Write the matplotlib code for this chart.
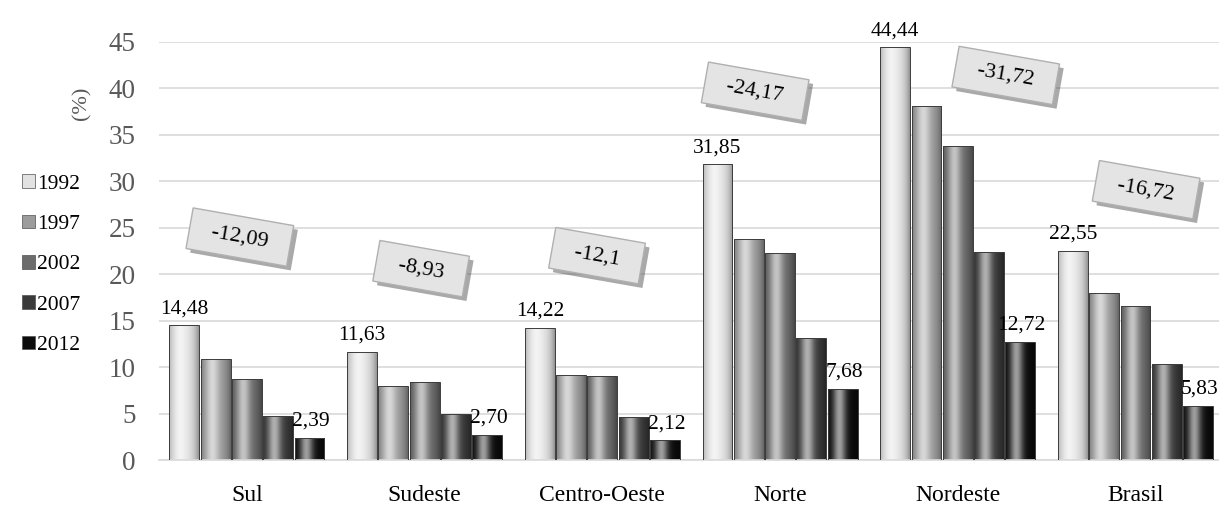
import numpy as np
import matplotlib
matplotlib.use('Agg')
import matplotlib.pyplot as plt
from matplotlib.patches import Patch
import matplotlib.patheffects as pe

# === dados
regioes = ['Sul', 'Sudeste', 'Centro-Oeste', 'Norte', 'Nordeste', 'Brasil']
anos = ['1992', '1997', '2002', '2007', '2012']
v1992 = [14.48, 11.63, 14.22, 31.85, 44.44, 22.55]
v1997 = [10.9, 8.0, 9.2, 23.8, 38.1, 18.0]
v2002 = [8.7, 8.4, 9.0, 22.3, 33.8, 16.6]
v2007 = [4.7, 4.9, 4.6, 13.1, 22.4, 10.3]
v2012 = [2.39, 2.70, 2.12, 7.68, 12.72, 5.83]
rot_1992 = ['14,48', '11,63', '14,22', '31,85', '44,44', '22,55']
rot_2012 = ['2,39', '2,70', '2,12', '7,68', '12,72', '5,83']
variacao = ['-12,09', '-8,93', '-12,1', '-24,17', '-31,72', '-16,72']

series = [v1992, v1997, v2002, v2007, v2012]
cores = ['#e2e2e2', '#9c9c9c', '#6c6c6c', '#3a3a3a', '#0c0c0c']
# posicao das caixas de variacao (x em categorias, y em %)
caixa_pos = [(-0.04, 24.0), (0.98, 20.6), (1.97, 22.0), (2.86, 39.7), (4.27, 41.4), (5.06, 29.1)]

plt.rcParams['font.family'] = ['Liberation Serif', 'DejaVu Serif']

fig = plt.figure(figsize=(12.19, 5.12), dpi=100)
ax = fig.add_axes([159 / 1219, 1 - 460 / 512, 1 - 159 / 1219, (460 - 42) / 512])

x = np.arange(len(regioes))
passo = 0.176
larg = 0.168


def bevel(ax, bar, base):
    # gradiente horizontal para imitar o efeito 3D
    t = np.linspace(0, 1, 60)
    hl = np.exp(-((t - 0.38) / 0.22) ** 2)
    edge = np.clip(1 - 0.35 * (np.abs(t - 0.45) / 0.55) ** 3, 0, 1)
    rgb = np.array(matplotlib.colors.to_rgb(base))
    col = rgb[None, :] * edge[:, None] + (1 - rgb[None, :]) * 0.6 * hl[:, None]
    col = np.clip(col, 0, 1)[None, :, :]
    bx, by = bar.get_x(), bar.get_y()
    w, h = bar.get_width(), bar.get_height()
    im = ax.imshow(col, extent=[bx, bx + w, by, by + h], aspect='auto',
                   interpolation='bilinear', zorder=2)
    im.set_clip_path(bar)


for j, vals in enumerate(series):
    bars = ax.bar(x + (j - 2) * passo, vals, larg, color=cores[j],
                  edgecolor='#3c3c3c', linewidth=0.7, zorder=3)
    for b in bars:
        b.set_facecolor('none')
        bevel(ax, b, cores[j])

# rotulos 1992 e 2012
for i in range(len(regioes)):
    ax.annotate(rot_1992[i], (x[i] - 2 * passo, v1992[i]), xytext=(0, 5),
                textcoords='offset points', ha='center', va='bottom',
                fontsize=15.5, zorder=5, annotation_clip=False)
    ax.annotate(rot_2012[i], (x[i] + 2 * passo, v2012[i]), xytext=(1, 5),
                textcoords='offset points', ha='center', va='bottom',
                fontsize=15.5, zorder=5, annotation_clip=False)

# caixas de variacao
for txt, (cx, cy) in zip(variacao, caixa_pos):
    t = ax.text(cx, cy, '  ' + txt + '  ', rotation=-10, rotation_mode='anchor',
                ha='center', va='center', fontsize=16, zorder=6,
                bbox=dict(boxstyle='square,pad=0.5', facecolor='#e4e4e4',
                          edgecolor='#b0b0b0', linewidth=1.0))
    t.get_bbox_patch().set_path_effects([
        pe.SimplePatchShadow(offset=(3, -3), shadow_rgbFace='#555555', alpha=0.5),
        pe.Normal()])

ax.set_xlim(-0.495, 5.47)
ax.set_ylim(0, 45)
ax.set_yticks(np.arange(0, 46, 5))
ax.yaxis.grid(True, color='#d9d9d9', linewidth=1.2, zorder=0)
ax.set_axisbelow(True)
for s in ['left', 'right', 'top']:
    ax.spines[s].set_visible(False)
ax.spines['bottom'].set_color('#d9d9d9')
ax.spines['bottom'].set_linewidth(1.2)
ax.tick_params(axis='y', length=0, pad=17, labelsize=19.5, labelcolor='#595959')
ax.tick_params(axis='x', length=0, pad=18, labelsize=17)
ax.set_xticks(x)
ax.set_xticklabels(regioes)

fig.text(82 / 1219, 1 - 103 / 512, '(%)', rotation=90, ha='center', va='center',
         fontsize=16, color='#595959')

handles = [Patch(facecolor=c, edgecolor='#505050', linewidth=0.5) for c in cores]
fig.legend(handles, anos, loc='center left', bbox_to_anchor=(0.002, 0.483),
           frameon=False, fontsize=15.5, handlelength=0.6, handleheight=0.6,
           handletextpad=0.1, labelspacing=0.97)

fig.savefig('out.png', dpi=100)
